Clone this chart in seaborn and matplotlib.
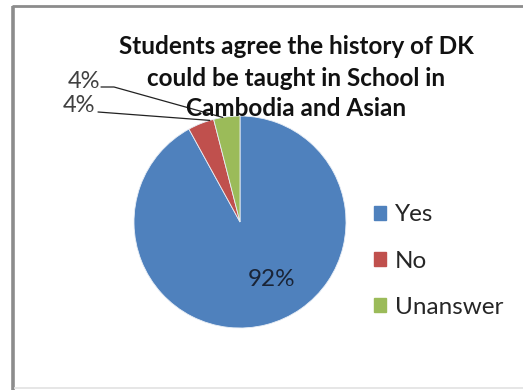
import numpy as np
import matplotlib
matplotlib.use("Agg")
import matplotlib.pyplot as plt
import matplotlib.patches as mpatches
import matplotlib.lines as mlines
import seaborn as sns

# Survey answers
categories = ["Yes", "No", "Unanswer"]
shares = [92, 4, 4]
pct_labels = ["92%", "4%", "4%"]
title_lines = ["Students agree the history of DK",
               "could be taught in School in",
               "Cambodia and Asian"]

sns.set_theme(style="white")
plt.rcParams["font.family"] = ["Lato", "DejaVu Sans"]
colors = ["#4F81BD", "#C0504D", "#9BBB59"]

W, H, DPI = 523, 390, 100
fig = plt.figure(figsize=(W / DPI, H / DPI), dpi=DPI)
fig.patch.set_facecolor("white")

# axes spanning the whole canvas; one data unit = pie radius
CX, CY, R = 240.0, 222.0, 106.0
ax = fig.add_axes([0, 0, 1, 1])


def px(x, y):
    """Pixel position (from top-left) to data coordinates."""
    return (x - CX) / R, (CY - y) / R


wedges, _ = ax.pie(shares, colors=colors, startangle=90, counterclock=False,
                   radius=1.0, center=(0, 0),
                   wedgeprops=dict(linewidth=0.6, edgecolor="#e8eef6"))
ax.set_xlim(px(0, 0)[0], px(W, 0)[0])
ax.set_ylim(px(0, H)[1], px(0, 0)[1])
ax.set_aspect("auto")
ax.axis("off")

# chart frame: darker left/top edges, faint bottom edge
def fig_line(x0, y0, x1, y1, color, lw):
    fig.lines.append(mlines.Line2D([x0 / W, x1 / W], [1 - y0 / H, 1 - y1 / H],
                                   transform=fig.transFigure, color=color,
                                   lw=lw, solid_capstyle="butt"))

fig_line(13, 6, 13, 390, "#8c8c8c", 2.6)
fig_line(12, 6, 523, 6, "#8c8c8c", 2.0)
fig_line(14, 388, 523, 388, "#e2e2e2", 1.2)

# title
tx, _ = px(296, 0)
for line, yy in zip(title_lines, [46, 78, 109]):
    ax.text(tx, px(0, yy)[1], line, ha="center", va="center",
            fontsize=17.5, fontweight="bold", color="#111111")

# big slice label
bx, by = px(272, 280)
ax.text(bx, by, pct_labels[0], ha="center", va="center",
        fontsize=17.5, color="#1a2436")

# small slice labels with leader lines to the slice rims
cum = np.cumsum([0] + shares)
total = float(sum(shares))


def rim_point(frac):
    ang = np.deg2rad(90 - 360 * frac)
    return np.cos(ang), np.sin(ang)


# "No" slice (red) and "Unanswer" slice (green)
no_end = rim_point((cum[1] + 0.85 * shares[1]) / total)
un_end = rim_point((cum[2] + 0.35 * shares[2]) / total)

lx, ly = px(84, 81)
ax.text(lx, ly, pct_labels[2], ha="center", va="center", fontsize=17,
        color="#404040")
xs, ys = zip(px(101, 87), px(114, 87))
ax.plot(list(xs) + [un_end[0]], list(ys) + [un_end[1]], color="#222222", lw=0.9)

lx, ly = px(79, 106)
ax.text(lx, ly, pct_labels[1], ha="center", va="center", fontsize=17,
        color="#404040")
x0, y0 = px(98, 112)
ax.plot([x0, no_end[0]], [y0, no_end[1]], color="#222222", lw=0.9)

# legend
handles = [mpatches.Patch(color=c, label=l) for c, l in zip(colors, categories)]
leg = fig.legend(handles=handles, loc="center left",
                 bbox_to_anchor=(374 / W, 1 - 261 / H),
                 frameon=False, fontsize=17.5, handlelength=0.5,
                 handleheight=0.5, handletextpad=0.35, labelspacing=1.04,
                 borderpad=0, borderaxespad=0)
for t in leg.get_texts():
    t.set_color("#262626")

fig.savefig("out.png", dpi=DPI, facecolor="white")
